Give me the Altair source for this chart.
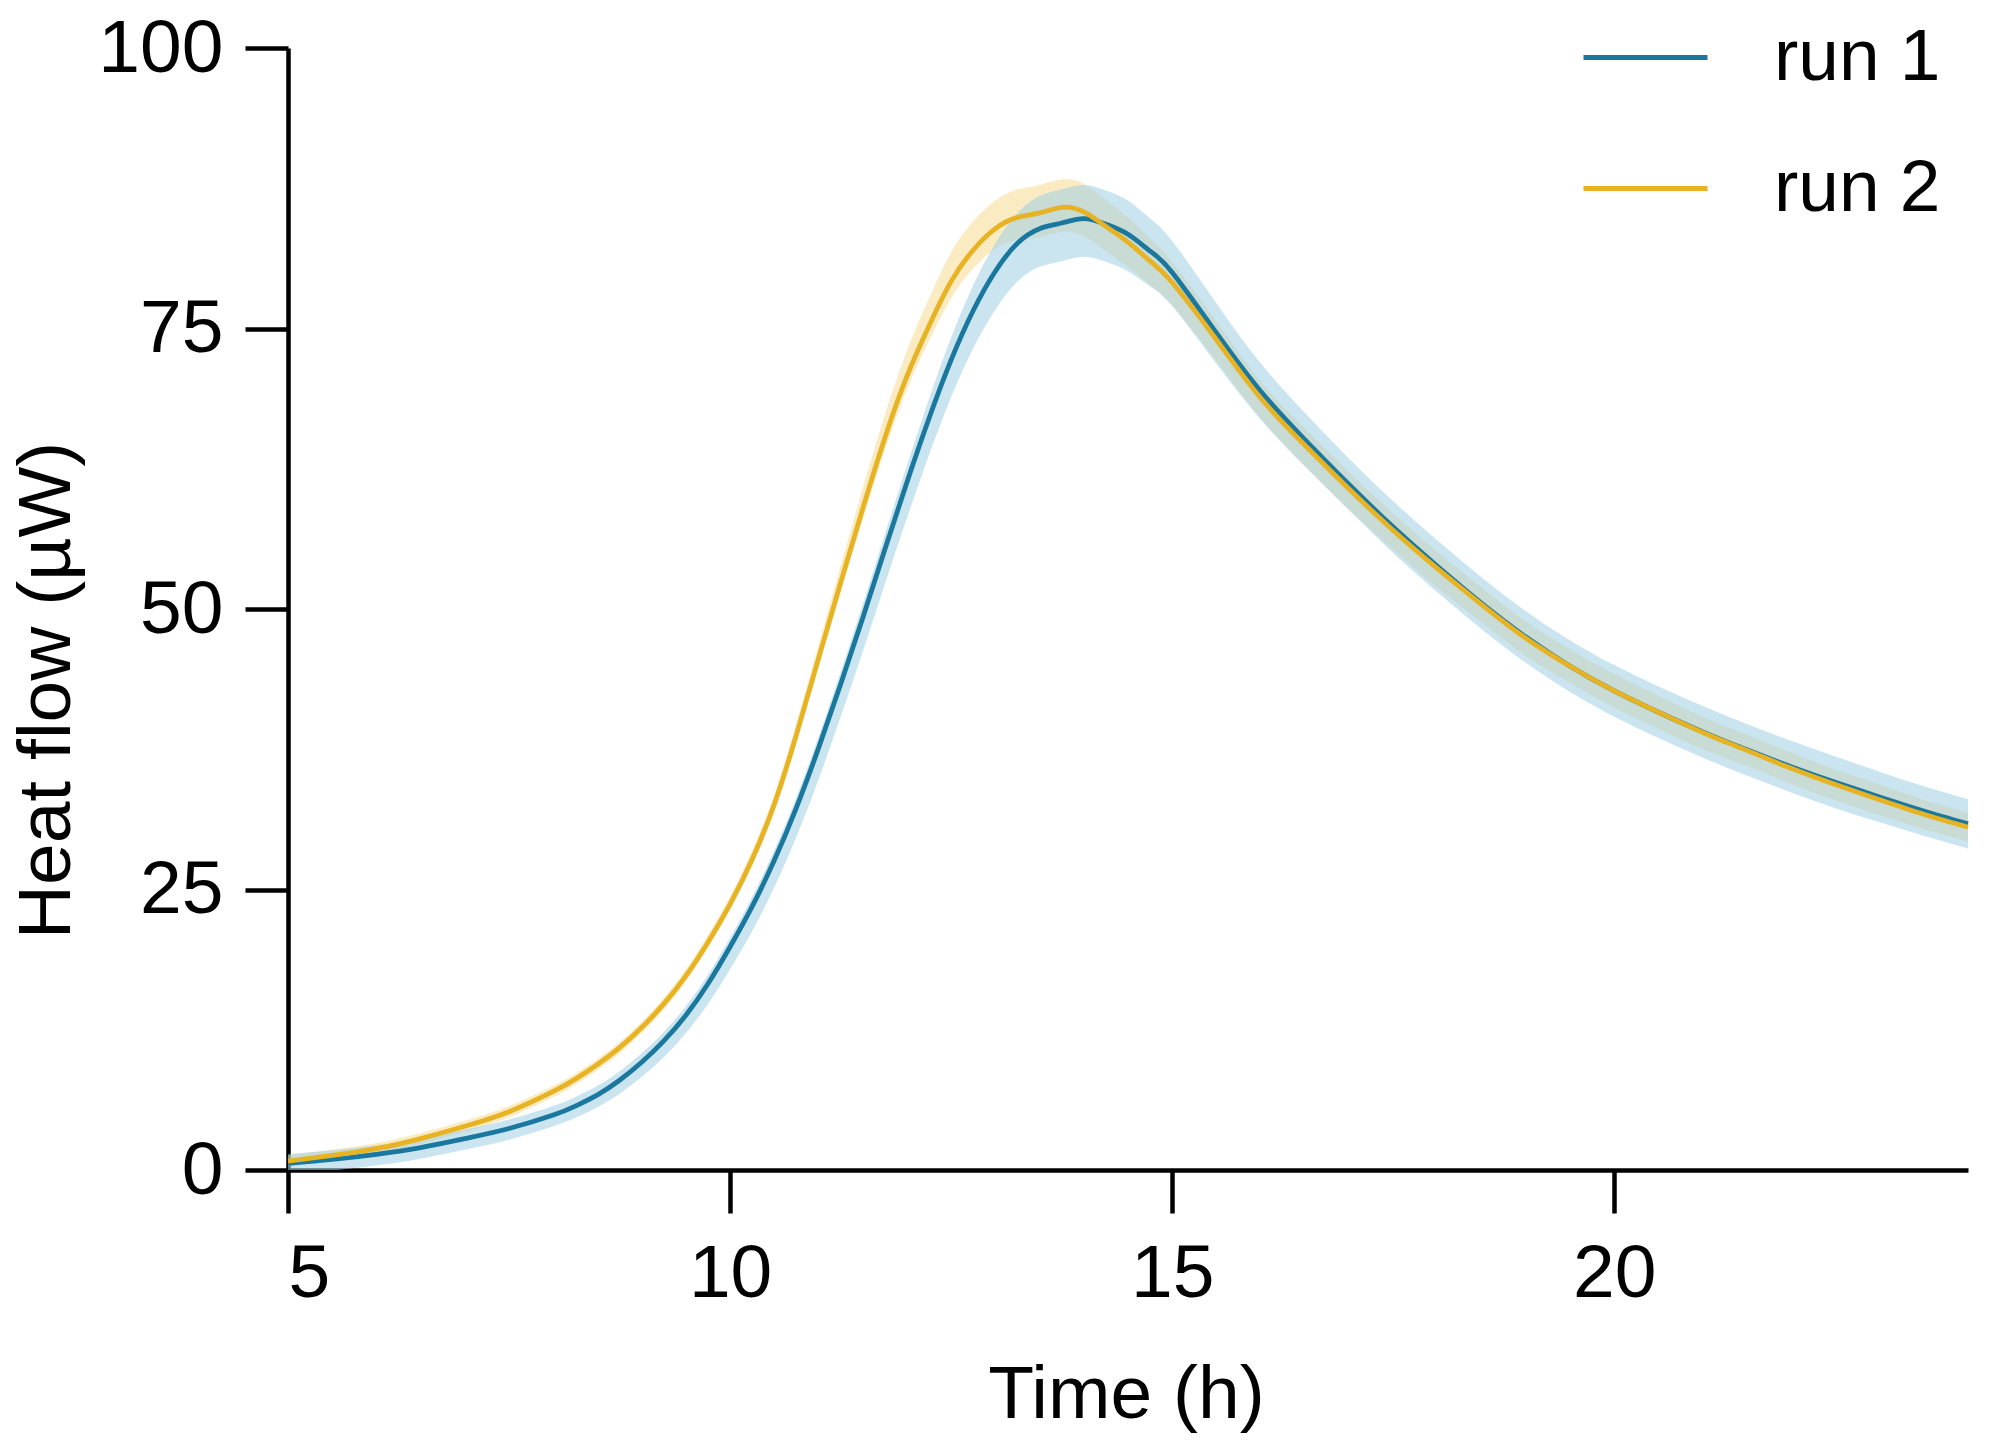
import altair as alt
import pandas as pd

# ---- data ----
time_h = [5.0, 5.5, 6.0, 6.5, 7.0, 7.5,
          8.0, 8.25, 8.5, 8.75, 9.0, 9.25, 9.5, 9.75, 10.0, 10.25, 10.5, 10.75, 11.0, 11.25,
          11.5, 11.75, 12.0, 12.25, 12.5, 12.75, 13.0, 13.25, 13.5, 13.75, 14.0, 14.25, 14.5,
          14.75, 15.0,
          15.5, 16.0, 16.5, 17.0, 17.5, 18.0, 18.5, 19.0, 19.5, 20.0, 20.5, 21.0, 21.5, 22.0,
          22.5, 23.0, 23.5, 24.0]

run1_mean = [0.6, 0.95, 1.4, 2.0, 2.8, 3.7,
             4.9, 5.7, 6.7, 8.0, 9.6, 11.5, 13.8, 16.6, 19.9, 23.5, 27.6, 32.3, 37.6, 43.3,
             49.2, 55.3, 61.3, 67.0, 72.2, 76.6, 80.1, 82.6, 83.9, 84.4, 84.8, 84.3, 83.4,
             81.9, 80.0,
             74.6, 69.4, 65.1, 61.1, 57.3, 53.8, 50.5, 47.5, 44.9, 42.7, 40.8, 39.05, 37.45, 35.95,
             34.55, 33.25, 32.0, 30.85]
run1_up = [0.8, 0.8, 0.8, 0.8, 0.8, 0.8,
           0.8, 0.8, 0.8, 0.8, 0.8, 0.8, 0.8, 0.8, 0.8, 0.85, 0.9, 0.95, 1.0, 1.1,
           1.2, 1.35, 1.5, 1.75, 2.0, 2.25, 2.5, 2.7, 2.9, 3.0, 3.0, 3.0, 3.0,
           2.9, 2.8,
           2.65, 2.5, 2.4, 2.3, 2.3, 2.3, 2.3, 2.3, 2.3, 2.3, 2.3, 2.3, 2.3, 2.3,
           2.3, 2.25, 2.2, 2.2]
run1_dn = [1.0, 1.0, 1.0, 1.0, 1.0, 1.0,
           1.0, 1.05, 1.1, 1.2, 1.3, 1.45, 1.6, 1.8, 2.0, 2.2, 2.4, 2.6, 2.8, 2.9,
           3.0, 3.1, 3.2, 3.25, 3.3, 3.35, 3.4, 3.4, 3.4, 3.4, 3.4, 3.35, 3.3,
           3.15, 3.0,
           2.75, 2.5, 2.4, 2.3, 2.3, 2.3, 2.3, 2.3, 2.3, 2.3, 2.3, 2.3, 2.3, 2.3,
           2.3, 2.25, 2.2, 2.2]

run2_mean = [0.8, 1.3, 1.9, 2.8, 3.9, 5.2,
             7.0, 8.1, 9.4, 10.9, 12.7, 14.8, 17.3, 20.3, 23.7, 27.7, 32.6, 38.8, 45.6, 52.35,
             58.95, 65.25, 70.75, 75.25, 79.2, 82.0, 83.9, 84.9, 85.3, 85.8, 85.4, 84.1, 82.7,
             81.0, 79.1,
             74.0, 68.8, 64.6, 60.7, 57.0, 53.6, 50.4, 47.4, 44.9, 42.7, 40.8, 39.0, 37.4, 35.8,
             34.35, 33.0, 31.7, 30.55]
run2_up = [0.5, 0.5, 0.5, 0.5, 0.5, 0.5,
           0.5, 0.5, 0.5, 0.5, 0.5, 0.55, 0.6, 0.65, 0.7, 0.8, 0.9, 1.05, 1.2, 1.5,
           1.8, 2.05, 2.3, 2.45, 2.6, 2.55, 2.5, 2.5, 2.5, 2.5, 2.5, 2.35, 2.2,
           2.0, 1.8,
           1.65, 1.5, 1.5, 1.5, 1.5, 1.5, 1.5, 1.5, 1.5, 1.5, 1.45, 1.4, 1.4, 1.4,
           1.35, 1.35, 1.3, 1.3]
run2_dn = [0.5, 0.5, 0.5, 0.5, 0.5, 0.5,
           0.5, 0.5, 0.5, 0.5, 0.5, 0.5, 0.5, 0.5, 0.5, 0.58, 0.65, 0.72, 0.8, 0.9,
           1.0, 1.1, 1.2, 1.35, 1.5, 1.65, 1.8, 2.0, 2.2, 2.2, 2.2, 2.2, 2.2,
           2.1, 2.0,
           1.9, 1.8, 1.8, 1.8, 1.7, 1.7, 1.6, 1.6, 1.5, 1.5, 1.5, 1.5, 1.4, 1.4,
           1.4, 1.35, 1.3, 1.3]

run_names = ["run 1", "run 2"]
line_colors = ["#1a789f", "#e8b322"]
x_ticks = [5, 10, 15, 20]
y_ticks = [0, 25, 50, 75, 100]

rows = []
for name, m, u, d in [("run 1", run1_mean, run1_up, run1_dn),
                      ("run 2", run2_mean, run2_up, run2_dn)]:
    for t, mv, uv, dv in zip(time_h, m, u, d):
        rows.append({"run": name, "t": t, "mean": mv, "lo": mv - dv, "hi": mv + uv})
df = pd.DataFrame(rows)

FONT = "Liberation Sans"
INTERP = "natural"
xscale = alt.Scale(domain=[5, 24], nice=False, zero=False)
yscale = alt.Scale(domain=[0, 100], nice=False)

x_axis = alt.Axis(values=x_ticks, title="Time (h)", labelPadding=24,
                  titleX=838, titleY=247, titleAlign="center",
                  titleBaseline="alphabetic")
y_axis = alt.Axis(values=y_ticks, title="Heat flow (µW)", labelPadding=22,
                  titleX=-219, titleY=642, titleAngle=270, titleAlign="center",
                  titleBaseline="alphabetic")

base = alt.Chart(df)

band2 = base.transform_filter(alt.datum.run == "run 2").mark_area(
    interpolate=INTERP, opacity=0.45, clip=True, color="#f5d27a"
).encode(
    x=alt.X("t:Q", scale=xscale, axis=x_axis),
    y=alt.Y("lo:Q", scale=yscale, axis=y_axis),
    y2="hi:Q",
)

band1 = base.transform_filter(alt.datum.run == "run 1").mark_area(
    interpolate=INTERP, opacity=0.55, clip=True, color="#9fcde3"
).encode(
    x=alt.X("t:Q", scale=xscale, axis=x_axis),
    y=alt.Y("lo:Q", scale=yscale, axis=y_axis),
    y2="hi:Q",
)

lines = base.mark_line(interpolate=INTERP, strokeWidth=4.8).encode(
    x=alt.X("t:Q", scale=xscale, axis=x_axis),
    y=alt.Y("mean:Q", scale=yscale, axis=y_axis),
    color=alt.Color("run:N", scale=alt.Scale(domain=run_names, range=line_colors),
                    legend=alt.Legend(title=None, orient="none", legendX=1293, legendY=-55,
                                      symbolType="stroke", symbolSize=15376,
                                      symbolStrokeWidth=5, labelFontSize=73, labelFont=FONT,
                                      labelColor="black", labelOffset=64, rowPadding=29,
                                      labelLimit=500, padding=0, labelBaseline="middle")),
)

chart = alt.layer(band2, band1, lines).properties(
    width=1680,
    height=1122,
    autosize=alt.AutoSizeParams(type="none"),
    padding={"left": 280, "top": 40, "right": 19, "bottom": 265},
).configure_view(stroke=None).configure_axis(
    grid=False,
    domainColor="black",
    domainWidth=4.5,
    tickColor="black",
    tickWidth=4.5,
    tickSize=43,
    labelFont=FONT,
    labelFontSize=75,
    labelColor="black",
    titleFont=FONT,
    titleFontSize=75,
    titleFontWeight="normal",
    titleColor="black",
)

chart.save("out.html", embed_options={"renderer": "svg", "actions": False})
